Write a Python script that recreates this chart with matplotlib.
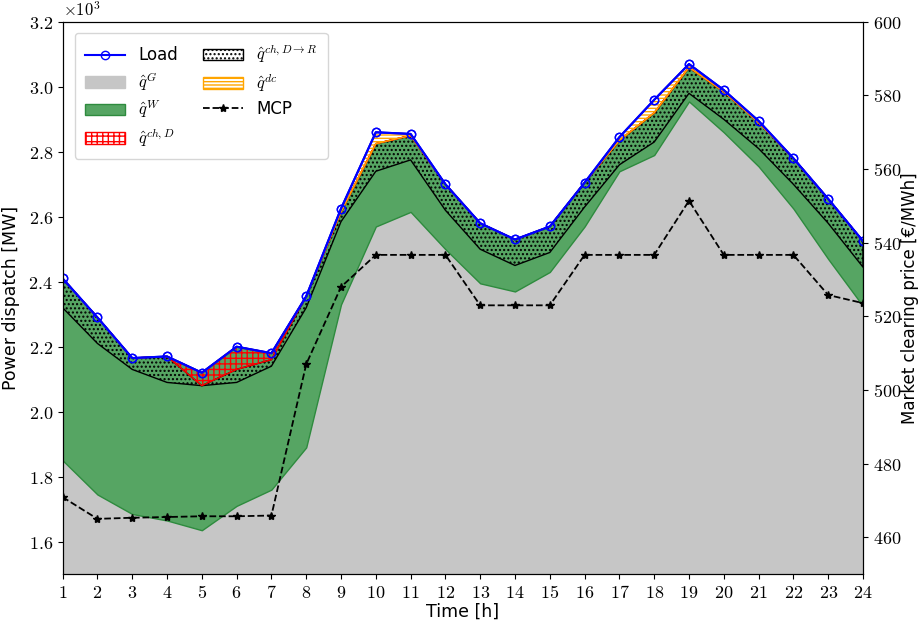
import numpy as np
import matplotlib
matplotlib.use("Agg")
import matplotlib.pyplot as plt
from matplotlib.ticker import FuncFormatter, MultipleLocator

plt.rcParams["mathtext.fontset"] = "cm"
plt.rcParams["hatch.linewidth"] = 1.0

hours = np.arange(1, 25)
# dispatch in MW
q_G = [1850, 1745, 1685, 1665, 1635, 1710, 1760, 1890, 2330, 2570, 2615, 2500,
       2395, 2370, 2430, 2570, 2740, 2790, 2955, 2860, 2755, 2625, 2470, 2325]
q_W = [470, 465, 445, 425, 445, 380, 380, 430, 255, 170, 160, 120,
       105, 80, 60, 60, 20, 40, 25, 40, 55, 75, 110, 120]
q_DR = [90, 80, 35, 80, 0, 40, 20, 35, 30, 85, 75, 80,
        80, 80, 80, 75, 75, 90, 80, 85, 80, 80, 75, 80]
q_chD = [0, 0, 0, 0, 40, 70, 20, 0, 0, 0, 0, 0,
         0, 0, 0, 0, 0, 0, 0, 0, 0, 0, 0, 0]
q_dc = [0, 0, 0, 0, 0, 0, 0, 0, 10, 35, 5, 0,
        0, 0, 0, 0, 10, 40, 10, 5, 5, 0, 0, 0]
mcp = [470.9, 465.0, 465.3, 465.5, 465.7, 465.7, 465.9, 507.0, 528.0, 536.7, 536.7, 536.7,
       523.0, 523.0, 523.0, 536.7, 536.7, 536.7, 551.4, 536.7, 536.7, 536.7, 525.8, 523.6]

g = np.array(q_G, float)
gw = g + np.array(q_W)
gwr = gw + np.array(q_DR)
gwrc = gwr + np.array(q_chD)
load = gwrc + np.array(q_dc)

fig = plt.figure(figsize=(9.21, 6.24), dpi=100)
ax = fig.add_axes([0.068, 0.08, 0.869, 0.885])
ax2 = ax.twinx()

green = "#56a563"
h_load, = ax.plot(hours, load, "b-o", lw=1.5, mfc="none", ms=6, label="Load")
h_g = ax.fill_between(hours, 1500, g, facecolor="#c6c6c6", edgecolor="#c6c6c6", label=r"$\hat{q}^{G}$")
h_w = ax.fill_between(hours, g, gwrc, facecolor=green, edgecolor="#2e8b3e", lw=1, label=r"$\hat{q}^{W}$")
h_dr = ax.fill_between(hours, gw, gwr, facecolor="none", edgecolor="black", hatch="....", lw=1,
                       label=r"$\hat{q}^{ch,D\rightarrow R}$")
h_c = ax.fill_between(hours, gwr, gwrc, facecolor="none", edgecolor="red", hatch="+++", lw=1,
                      label=r"$\hat{q}^{ch,D}$")
h_dc = ax.fill_between(hours, gwrc, load, facecolor="none", edgecolor="orange", hatch="-----", lw=1,
                       label=r"$\hat{q}^{dc}$")
ax.plot(hours, load, "b-o", lw=1.5, mfc="none", ms=6)

h_mcp, = ax2.plot(hours, mcp, "k--*", lw=1.3, ms=6, label="MCP")

ax.set_xlim(1, 24)
ax.set_ylim(1500, 3200)
ax2.set_ylim(450, 600)
ax.set_xticks(hours)
ax.yaxis.set_major_locator(MultipleLocator(200))
ax2.yaxis.set_major_locator(MultipleLocator(20))
ax.xaxis.set_major_formatter(FuncFormatter(lambda v, p: f"${int(v)}$"))
ax.yaxis.set_major_formatter(FuncFormatter(lambda v, p: f"${v/1000:.1f}$"))
ax2.yaxis.set_major_formatter(FuncFormatter(lambda v, p: f"${int(v)}$"))
ax.tick_params(labelsize=13)
ax2.tick_params(labelsize=13)
ax.text(0.0, 1.003, r"$\times10^{3}$", transform=ax.transAxes, fontsize=12, va="bottom")

ax.set_xlabel("Time [h]", fontsize=12.5, labelpad=1)
ax.set_ylabel("Power dispatch [MW]", fontsize=12.5, labelpad=6)
ax2.set_ylabel("Market clearing price [€/MWh]", fontsize=12, labelpad=0)

handles = [h_load, h_g, h_w, h_c, h_dr, h_dc, h_mcp]
ax2.legend(handles=handles, labels=[h.get_label() for h in handles], loc="upper left",
           ncol=2, fontsize=12, handlelength=2.4, borderpad=0.6, labelspacing=0.35,
           columnspacing=1.5, bbox_to_anchor=(0.005, 0.995))

fig.savefig("out.png", dpi=100)
